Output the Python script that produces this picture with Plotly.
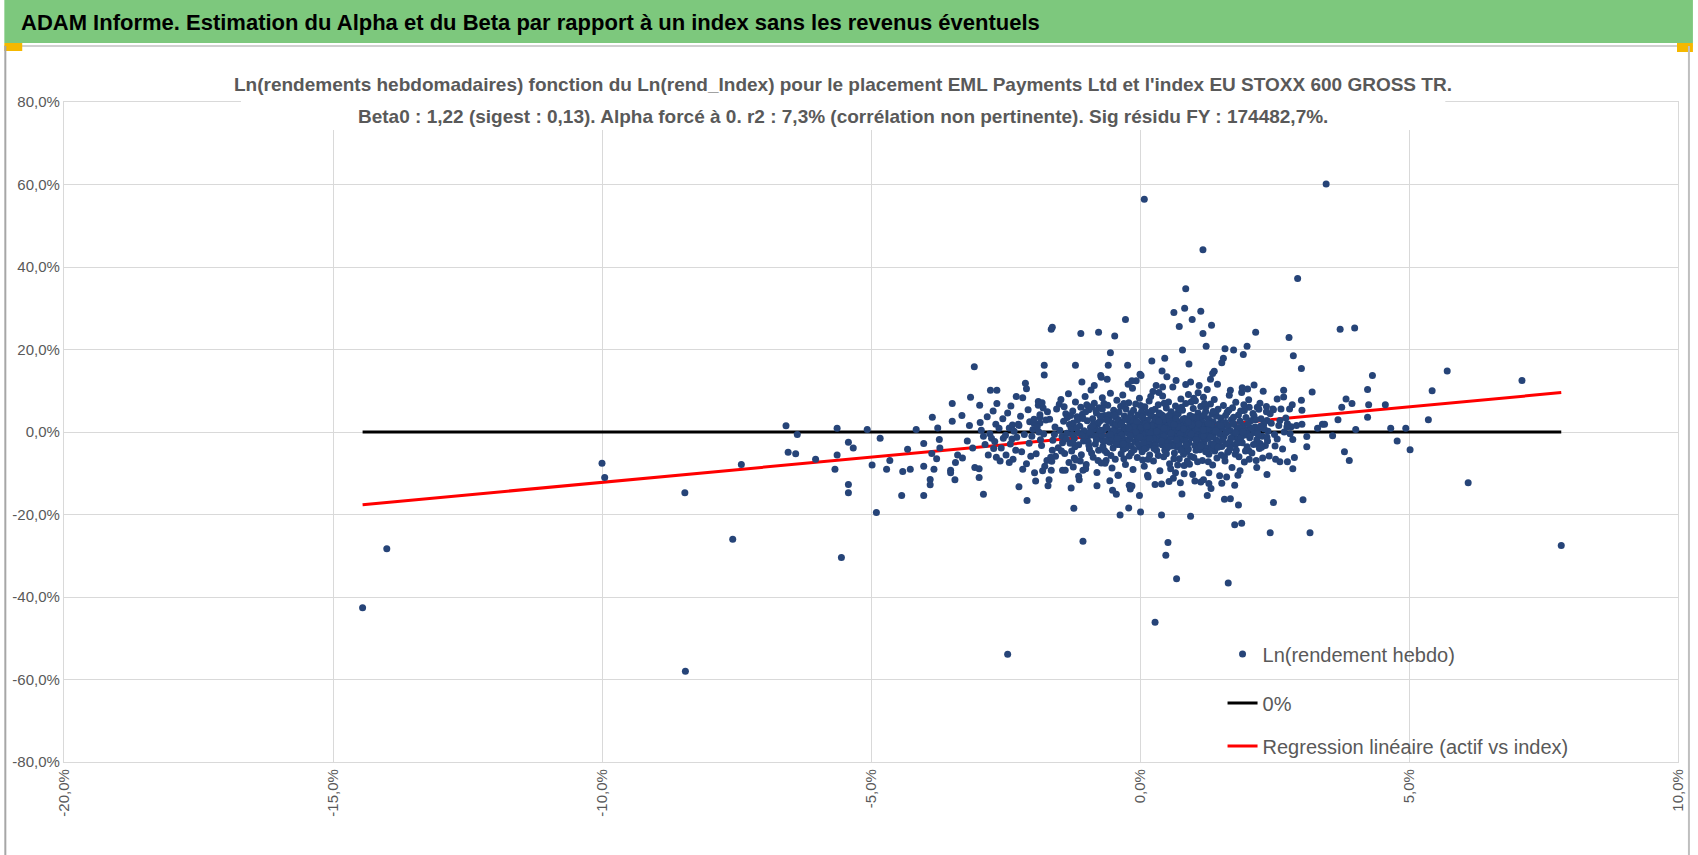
import plotly.graph_objects as go

# ---------------- data (values in %) ----------------
# sparse / outlying weekly points: (Ln(rend_Index), Ln(rendement hebdo))
points_far_left = [
    (-14.45, -42.6), (-14.00, -28.3), (-10.00, -7.6), (-9.95, -11.0), (-8.46, -14.7),
    (-8.45, -58.0), (-7.57, -26.0), (-7.41, -7.9), (-6.58, 1.5), (-6.54, -4.9),
    (-6.40, -5.3), (-6.37, -0.6), (-6.03, -6.6), (-5.63, 0.9), (-5.63, -5.6),
    (-5.67, -9.0), (-5.42, -2.5), (-5.33, -3.9), (-5.42, -12.7), (-5.42, -14.7),
    (-5.55, -30.4),
]

points_left = [
    (-4.90, -19.5), (-5.07, 0.6), (-4.83, -1.5), (-4.98, -8.0), (-4.71, -9.0), (-4.65, -6.9),
    (-4.32, -4.2), (-4.41, -9.6), (-4.27, -9.0), (-4.43, -15.4), (-4.16, 0.6), (-4.02, -2.8),
    (-4.02, -8.3), (-4.02, -15.4), (-3.86, 3.6), (-3.87, -5.2), (-3.83, -9.0), (-3.90, -11.5),
    (-3.90, -12.8), (-3.78, -6.5), (-3.76, 1.0), (-3.73, -1.8), (-3.72, -3.9), (-3.52, -9.3),
    (-3.52, -9.9), (-3.44, -11.6), (-3.43, -7.4), (-3.49, 2.6), (-3.49, 6.9), (-3.39, -5.6),
    (-3.30, -6.3), (-3.31, 4.0), (-3.21, -2.2), (-3.17, 1.6), (-3.15, 8.4), (-3.11, -3.9),
    (-3.07, -8.6), (-3.08, 15.8), (-2.98, 6.5), (-2.97, 2.3), (-2.99, -8.9), (-2.99, -11.0),
    (-2.91, -15.1), (-2.91, -1.0), (-2.82, -5.6), (-2.76, -1.5), (-2.72, -4.0), (-2.68, 1.9),
    (-2.67, -6.1), (-2.66, 6.9), (-2.66, 10.1), (-2.78, 10.1), (-2.54, -1.5), (-2.49, -5.6),
    (-2.43, 1.0), (-2.43, -7.4), (-2.38, -1.7), (-2.36, -6.6), (-2.31, -4.4), (-2.30, 8.6),
    (-2.25, 1.6), (-2.25, -13.3), (-2.18, 8.3), (-2.18, -9.0), (-2.11, -7.7), (-2.10, -16.6),
    (-2.03, -5.9), (-1.99, 0.6), (-1.96, -9.9), (-1.94, -11.9), (-1.88, 0.0), (-1.83, -3.3),
    (-1.81, -9.4), (-1.77, -8.3), (-2.13, 11.8), (-2.11, 10.5), (-1.78, 16.2), (-1.78, 13.8),
    (-1.89, 7.4), (-1.89, 6.5), (-1.86, 4.2), (-1.86, 2.2), (-2.37, 1.7), (-2.26, 1.9),
    (-2.05, 2.5), (-1.97, 2.1), (-1.86, 3.6), (-1.72, 4.9), (-1.80, 5.8),
    (-2.95, 0.4), (-2.88, -3.0), (-2.84, 3.7), (-2.79, -0.4), (-2.73, 5.1), (-2.70, -2.3),
    (-2.62, 0.9), (-2.58, -3.9), (-2.55, 3.2), (-2.50, -0.8), (-2.46, 4.6), (-2.41, -2.9),
    (-2.34, 0.2), (-2.29, -1.3), (-2.22, 3.8), (-2.20, -4.8), (-2.15, -0.6), (-2.08, 5.4),
    (-2.06, -2.7), (-2.01, -1.0), (-1.97, 3.1), (-1.93, -5.3), (-1.91, 1.2), (-1.85, -1.9),
    (-1.82, 7.1), (-1.79, -0.5), (-1.75, 2.9), (-1.73, -6.9), (-2.40, 6.3), (-2.60, -7.0),
]

points_top = [
    (-1.65, 24.9), (-1.63, 25.4), (-1.10, 23.9), (-0.77, 24.2), (-0.47, 23.3), (-0.27, 27.3),
    (-0.55, 19.2), (-0.59, 16.2), (-0.23, 16.2), (-1.20, 16.2), (-1.08, 12.1), (-0.72, 13.3),
    (-0.61, 12.8), (0.22, 17.2), (0.46, 17.9), (0.41, 14.8), (0.02, 13.7), (-0.07, 12.4),
    (0.63, 29.0), (0.83, 30.0), (0.85, 34.7), (1.13, 29.3), (0.97, 27.3), (0.73, 25.6),
    (1.17, 23.9), (1.33, 25.9), (1.23, 20.8), (0.79, 19.9), (0.91, 16.5), (1.58, 20.2),
    (1.74, 19.9), (1.92, 18.8), (1.99, 20.8), (2.15, 24.2), (1.55, 17.9), (1.52, 16.8),
    (1.38, 14.7), (1.31, 12.8), (2.77, 22.9), (2.85, 18.5), (3.00, 15.4), (3.72, 24.9),
    (3.99, 25.2), (4.32, 13.7), (0.08, 56.4), (3.46, 60.1), (1.17, 44.2), (2.93, 37.2),
    (5.71, 14.8), (-0.22, 11.6), (-0.15, 12.4), (0.00, 14.0), (0.50, 13.4), (0.67, 12.5),
    (1.35, 14.2), (-0.73, 13.7), (-0.85, 11.3), (7.10, 12.5), (0.30, 11.3), (0.42, 10.9),
    (0.94, 12.1), (1.10, 11.3), (1.44, 11.6),
]

points_right = [
    (4.23, 10.3), (4.25, 6.6), (4.23, 3.6), (3.83, 8.0), (3.75, 6.0), (3.94, 6.9), (4.56, 6.6),
    (5.43, 10.0), (5.36, 3.0), (4.94, 0.9), (4.66, 0.9), (4.78, -2.2), (5.02, -4.3), (4.01, 0.6),
    (3.58, -0.9), (3.68, 3.0), (3.39, 1.9), (3.43, 1.9), (3.30, 0.9), (3.20, 9.7), (3.10, -1.1),
    (3.10, -3.6), (3.01, 1.9), (3.01, 5.3), (3.00, 7.7), (2.83, 6.6), (2.78, 5.6), (2.67, 8.5),
    (2.67, 10.1), (2.55, 8.0), (2.29, 9.9), (2.12, 11.4), (2.00, 10.4), (1.90, 10.7), (1.68, 10.1),
    (2.23, 7.0), (2.35, 6.2), (2.47, 5.6), (2.37, -2.2), (2.51, -3.4), (2.55, -1.7), (2.84, -1.8),
    (2.68, 0.0), (2.74, 2.0), (2.81, 1.3), (6.10, -12.3), (7.83, -27.5), (3.80, -4.8), (3.89, -6.9),
    (2.87, -6.2), (2.84, -8.9), (2.74, -7.2), (2.60, -7.2), (2.52, -6.6), (3.03, -16.4),
    (3.16, -24.4), (2.42, -24.4), (2.48, -17.1), (2.36, -10.3), (2.17, -8.6), (2.28, -6.3),
    (2.16, -6.9), (1.94, -7.3), (1.83, -17.7), (1.57, -16.3), (1.68, -16.2), (1.76, -22.5),
    (1.89, -22.1), (1.61, -10.9), (1.86, -9.4), (1.82, -10.5), (2.23, -2.8), (2.02, -4.5),
    (1.77, -5.4), (1.65, -4.6), (2.48, 5.4), (2.42, 4.4), (2.03, 6.0), (2.62, 5.6), (2.91, 1.6),
    (2.73, 1.2), (2.79, -0.4), (2.60, 2.8), (2.36, 2.8),
]

points_bottom = [
    (-2.46, -53.9), (0.28, -46.1), (-1.06, -26.5), (0.52, -26.8), (0.48, -29.9), (0.68, -35.6),
    (1.64, -36.6), (-1.23, -18.5), (-0.37, -20.1), (-0.21, -18.4), (0.01, -19.4), (0.40, -20.1),
    (0.94, -20.4), (-0.01, -15.4), (-0.18, -13.8), (-0.15, -13.1), (0.28, -12.7), (0.54, -12.0),
    (0.78, -15.0), (1.13, -12.1), (1.18, -11.6), (1.25, -15.4), (1.32, -13.7), (1.28, -9.9),
    (-0.80, -13.0), (-0.72, -7.5), (-0.63, -6.9), (-0.56, -11.8), (-0.51, -14.1), (-0.44, -15.1),
    (-1.28, -13.6), (-1.24, -8.5), (-1.22, -6.3), (-1.14, -10.7), (-1.06, -9.3), (-1.01, -8.9),
    (-1.71, -13.0), (-1.69, -11.6), (-1.66, -6.1), (-1.63, -4.4), (-1.59, -0.6), (-1.44, -9.3),
    (-1.44, -2.6), (-1.39, -9.3), (-0.41, -10.5), (-0.20, -12.9), (0.14, -10.5), (0.82, -10.1),
    (1.28, -12.5), (-1.65, -9.3),
]

# dense central cloud
points_core = [
    (-1.68, 3.1), (-1.62, -2.0), (-1.58, 1.2), (-1.55, 5.6), (-1.52, -3.8), (-1.49, 0.4),
    (-1.47, 7.9), (-1.45, -1.1), (-1.42, 2.6), (-1.40, -5.2), (-1.38, 4.4), (-1.36, -0.3),
    (-1.33, 9.3), (-1.32, -7.4), (-1.31, 1.8), (-1.64, -7.1), (-1.57, -5.9), (-1.50, 6.7),
    (-1.35, 3.5), (-1.30, -2.7),
    (-1.28, 0.9), (-1.27, -4.6), (-1.25, 5.1), (-1.24, 2.2), (-1.22, -1.5), (-1.20, 7.3),
    (-1.19, -6.8), (-1.17, 3.7), (-1.15, -0.2), (-1.14, -3.1), (-1.12, 1.4), (-1.10, 6.0),
    (-1.09, -5.5), (-1.07, 4.3), (-1.05, -2.2), (-1.04, 0.3), (-1.02, 8.6), (-1.00, -7.9),
    (-0.98, 2.7), (-0.97, -1.0), (-0.95, 5.4), (-0.94, -4.1), (-0.92, 1.1), (-0.91, 10.2),
    (-1.13, -11.6),
    (-0.89, -0.7), (-0.88, 3.2), (-0.87, -6.1), (-0.85, 7.0), (-0.84, 0.8), (-0.83, -2.9),
    (-0.81, 4.6), (-0.80, -9.8), (-0.79, 1.9), (-0.77, -4.4), (-0.76, 5.9), (-0.75, -0.1),
    (-0.73, 2.8), (-0.72, -1.6), (-0.70, 8.3), (-0.69, -3.5), (-0.68, 0.5), (-0.66, 4.0),
    (-0.65, -7.6), (-0.63, 1.3), (-0.62, -5.0), (-0.60, 6.5), (-0.59, -0.9), (-0.57, 3.4),
    (-0.56, -2.5), (-0.55, 9.4), (-0.53, 0.2), (-0.52, -8.7), (-0.51, 2.1), (-0.50, -3.9),
    (-0.49, 5.3), (-0.48, -1.3), (-0.47, 0.9), (-0.46, -6.6), (-0.45, 3.6), (-0.44, -0.4),
    (-0.43, 7.7), (-0.42, -3.0), (-0.41, 1.6), (-0.40, -10.5), (-0.39, 4.8), (-0.38, -2.0),
    (-0.37, 0.1), (-0.36, 6.2), (-0.35, -5.3), (-0.34, 2.4), (-0.33, -0.8), (-0.32, 9.0),
    (-0.31, -4.2), (-0.30, 1.2), (-0.29, 3.9), (-0.28, -1.9), (-0.27, -7.9), (-0.26, 5.6),
    (-0.25, 0.4), (-0.24, -2.7), (-0.23, 2.9), (-0.22, -0.3), (-0.21, 7.1), (-0.20, -5.8),
    (-0.19, 1.8), (-0.18, -1.2), (-0.17, 4.5), (-0.16, -3.4), (-0.15, 0.7), (-0.14, 10.6),
    (-0.13, -9.1), (-0.12, 2.2), (-0.11, -0.6),
    (-0.10, 3.3), (-0.09, -2.3), (-0.08, 6.8), (-0.07, -0.9), (-0.06, 1.5), (-0.05, -6.2),
    (-0.04, 4.1), (-0.03, -1.6), (-0.02, 0.3), (-0.01, 8.2), (0.00, -3.7), (0.01, 2.0),
    (0.02, -0.2), (0.03, 5.0), (0.04, -4.8), (0.05, 1.0), (0.06, -1.4), (0.07, 3.0),
    (0.08, -8.3), (0.09, 6.1), (0.10, -0.5), (0.11, 2.5), (0.12, -2.9), (0.13, 0.8),
    (0.14, 4.7), (0.15, -10.9), (0.16, -0.1), (0.17, 7.5), (0.18, -5.6), (0.19, 1.7),
    (0.20, -1.1), (0.21, 3.8), (0.22, -3.2), (0.23, 0.4), (0.24, 9.8), (0.25, -7.0),
    (0.26, 2.3), (0.27, -0.7), (0.28, 5.5), (0.29, -2.4),
    (0.30, 1.1), (0.31, -4.5), (0.32, 3.5), (0.33, -0.3), (0.34, 6.6), (0.35, -1.8),
    (0.36, 0.6), (0.37, -9.4), (0.38, 2.8), (0.39, -0.9), (0.40, 4.2), (0.41, -3.1),
    (0.42, 8.7), (0.43, 0.2), (0.44, -6.0), (0.45, 1.9), (0.46, -1.5), (0.47, 3.1),
    (0.48, -0.1), (0.49, 5.8), (0.50, -4.0), (0.51, 1.4), (0.52, -2.2), (0.53, 7.3),
    (0.54, 0.0), (0.55, -7.7), (0.56, 2.6), (0.57, -0.6), (0.58, 4.9), (0.59, -2.8),
    (0.60, 1.0), (0.61, 10.9), (0.62, -1.3), (0.63, 3.7), (0.64, -5.1), (0.65, 0.5),
    (0.66, 6.3), (0.67, -0.2), (0.68, -3.6), (0.69, 2.1), (0.40, -12.6), (0.62, -11.2),
    (0.35, 9.6), (0.57, -8.9), (0.66, -9.9),
    (0.70, -1.0), (0.71, 4.4), (0.72, 0.3), (0.73, -6.5), (0.74, 2.4), (0.75, -2.0),
    (0.76, 8.0), (0.77, 0.9), (0.78, -3.9), (0.79, 5.3), (0.80, -0.4), (0.81, 1.6),
    (0.82, -8.1), (0.83, 3.3), (0.84, -1.7), (0.85, 6.9), (0.86, 0.1), (0.87, -4.7),
    (0.88, 2.0), (0.89, -0.8), (0.90, 9.1), (0.91, -2.6), (0.92, 1.2), (0.93, 4.0),
    (0.94, -5.9), (0.95, 0.6), (0.96, -1.4), (0.97, 3.0), (0.98, -10.3), (0.99, 5.7),
    (1.00, -0.2), (1.01, 2.2), (1.02, -3.3), (1.03, 7.6), (1.04, 0.4), (1.05, -2.1),
    (1.06, 1.5), (1.07, -7.2), (1.08, 4.6), (1.09, -0.7), (0.75, -12.3), (0.85, 11.5),
    (1.02, -11.9), (0.92, -7.8), (1.08, 9.5),
    (1.10, 2.9), (1.11, -4.3), (1.12, 0.8), (1.13, 6.2), (1.14, -1.2), (1.15, 3.6),
    (1.16, -6.9), (1.17, 0.0), (1.18, 8.4), (1.19, -2.5), (1.20, 1.9), (1.21, -0.5),
    (1.22, 5.0), (1.23, -3.8), (1.24, 0.7), (1.25, 10.3), (1.26, -1.6), (1.27, 3.2),
    (1.28, -5.4), (1.29, 1.3), (1.30, -0.9), (1.31, 6.8), (1.32, -2.9), (1.33, 0.2),
    (1.34, 4.3), (1.35, -8.0), (1.36, 2.5), (1.37, -0.3), (1.38, 7.9), (1.39, -4.6),
    (1.40, 1.0), (1.41, -1.9), (1.42, 3.9), (1.43, -6.3), (1.44, 0.5), (1.45, 5.5),
    (1.46, -2.3), (1.47, 2.0), (1.48, -10.6), (1.49, -0.6),
    (1.50, 3.4), (1.52, -3.5), (1.53, 0.9), (1.55, 6.4), (1.56, -1.1), (1.58, -7.0),
    (1.59, 2.3), (1.60, -0.2), (1.62, 4.8), (1.63, -4.9), (1.64, 1.4), (1.66, 8.9),
    (1.67, -2.4), (1.68, 0.3), (1.70, 3.0), (1.71, -8.6), (1.72, 5.9), (1.74, -0.8),
    (1.75, 1.8), (1.77, -3.0), (1.78, 7.2), (1.80, 0.6), (1.81, -1.7), (1.83, 4.1),
    (1.84, -6.0), (1.86, 2.6), (1.87, -0.4), (1.89, 9.6), (1.52, -12.4), (1.76, -12.9),
    (1.90, -2.6), (1.92, 1.5), (1.94, 5.2), (1.95, -0.7), (1.97, 3.5), (1.99, -3.6),
    (2.00, 0.4), (2.02, 7.8), (2.04, -1.4), (2.06, 2.7), (2.08, -5.1), (2.10, 4.5),
    (2.12, -0.1), (2.14, 1.2), (2.16, -2.9), (2.18, 6.0), (2.20, 0.8), (2.22, -4.0),
    (2.25, 3.2), (2.27, -1.0), (2.30, 1.9), (2.33, -3.3), (2.35, 4.9), (2.38, 0.2),
    (2.40, -5.8),
    (0.02, 1.1), (0.08, -1.9), (0.14, 2.9), (0.19, -0.4), (0.24, 1.6), (0.29, -3.3),
    (0.33, 2.0), (0.38, -0.2), (0.43, 3.9), (0.47, -2.5), (0.52, 0.7), (0.57, -1.1),
    (0.61, 2.5), (0.66, -3.0), (0.71, 1.3), (0.75, -0.5), (0.80, 3.1), (0.84, -2.2),
    (0.89, 0.4), (0.93, -0.9), (0.98, 2.1), (1.03, -1.3), (1.07, 0.9), (1.12, -2.8),
    (1.16, 2.4), (1.21, -1.5), (1.25, 0.6), (1.30, 2.6), (1.35, -1.0), (1.40, 0.0),
    (-0.05, -0.8), (-0.12, 1.3), (-0.20, -1.8), (-0.28, 0.9), (-0.36, -3.1), (-0.44, 2.0),
    (-0.53, -1.4), (-0.61, 1.0), (-0.69, -2.1), (-0.77, 2.3), (0.05, 4.0), (0.27, 3.6),
    (0.46, -4.4), (0.69, 4.5), (0.90, -4.1), (1.11, 3.8), (1.33, -4.0), (0.16, -2.3),
    (0.55, 3.0), (0.96, 1.7), (0.36, 4.6), (0.74, -1.7), (1.19, 4.1), (0.12, -3.8),
    (0.59, -3.4), (1.04, -4.4), (-0.17, 3.0), (-0.39, -2.2), (-0.58, 4.2), (-0.83, -0.9),
]

points_core_extra = [
    (-1.46, -4.6), (-1.41, 6.1), (-1.37, -1.7), (-1.29, 4.0), (-1.26, -0.6), (-1.21, -3.6),
    (-1.16, 2.9), (-1.11, -7.0), (-1.06, 3.3), (-1.03, -1.3), (-0.99, 6.6), (-0.96, -2.4),
    (-0.93, 0.0), (-0.90, -5.1), (-0.86, 2.0), (-0.82, 5.2), (-0.78, -6.9), (-0.74, 3.9),
    (-0.71, -0.8), (-0.67, 6.9), (-0.64, -2.2), (-0.58, 2.6), (-0.54, -5.7), (-0.49, 0.3),
    (-0.45, -2.6), (-0.40, 3.0), (-0.35, -0.7), (-0.30, 6.9), (-0.26, -3.9), (-0.21, 1.0),
    (-0.16, -5.0), (-0.12, 5.3), (-0.08, -0.1), (-0.03, -3.0), (0.01, 6.4), (0.06, -2.7),
    (0.10, 1.9), (0.15, -6.6), (0.20, 4.3), (0.25, -1.6), (0.30, 3.0), (0.34, -5.7),
    (0.39, 1.4), (0.44, -1.0), (0.48, 6.8), (0.53, -3.5), (0.58, 2.0), (0.63, -6.5),
    (0.67, 3.3), (0.72, -3.0), (0.77, 6.0), (0.81, -5.4), (0.86, 2.8), (0.91, -0.2),
    (0.95, 7.3), (1.00, -6.2), (1.05, 3.4), (1.09, -4.0), (1.14, 1.6), (1.18, -0.9),
    (1.23, 6.1), (1.27, -7.2), (1.32, 1.9), (1.37, -3.1), (1.41, 4.7), (1.46, -0.1),
    (1.51, -5.6), (1.55, 2.1), (1.60, -2.9), (1.65, 5.3), (1.69, -1.5), (1.74, 3.6),
    (1.79, -4.4), (1.84, 1.1), (1.88, -1.3), (1.93, 6.6), (1.98, -0.5), (2.03, -6.6),
    (2.07, 1.0), (2.12, 3.9), (2.17, -1.9), (2.21, 5.5), (2.26, -3.7), (2.31, 0.7),
    (2.36, -1.3), (2.44, 2.1), (2.50, -0.6), (2.58, 1.6), (2.65, -4.1), (2.71, 3.4),
    (-0.95, -3.3), (-0.88, 1.5), (-0.81, -1.9), (-0.74, 0.4), (-0.66, -4.5), (-0.62, 3.0),
    (-0.55, -0.6), (-0.48, 4.1), (-0.42, -1.6), (-0.35, 1.9), (-0.31, -2.9), (-0.24, 3.4),
    (-0.18, -0.9), (-0.11, -4.3), (-0.06, 2.6), (0.00, -1.2), (0.04, 3.6), (0.09, -4.1),
    (0.13, 1.4), (0.18, -1.6), (0.22, 5.2), (0.26, -4.0), (0.31, 0.2), (0.35, 2.6),
    (0.40, -2.1), (0.45, 0.9), (0.49, -5.3), (0.54, 4.0), (0.58, -0.3), (0.63, 1.8),
    (0.68, -1.9), (0.72, 5.5), (0.76, -4.4), (0.81, 0.7), (0.86, -3.1), (0.90, 2.5),
    (0.95, -0.5), (0.99, 3.7), (1.04, -1.8), (1.09, 2.0), (1.13, -3.4), (1.18, 0.5),
    (1.22, -4.8), (1.27, 2.1), (1.31, -1.3), (1.36, 5.0), (1.41, 0.3), (1.45, -3.7),
    (1.50, 1.6), (1.54, -1.9), (1.59, 4.0), (1.63, 0.1), (1.68, -3.9), (1.73, 2.2),
    (1.78, -0.2), (1.82, -2.6), (1.87, 5.1), (1.91, 0.0), (1.96, -4.6), (2.01, 2.0),
    (2.05, -0.9), (2.11, -3.0), (2.15, 3.0), (2.19, -0.5), (2.24, 1.4), (-1.25, -2.5),
    (-1.18, 1.0), (-1.08, -0.8), (-1.01, 4.9), (-0.90, 6.1), (0.05, -6.8), (0.45, 7.0),
    (0.88, -7.0), (1.20, 6.9), (1.57, -6.0), (-0.30, -6.5), (-0.70, 5.6), (0.70, -8.0),
    (1.00, 8.2), (0.20, 8.6),
]

beta0 = 1.22  # regression slope (alpha forced to 0)

x_tick_vals = [-20, -15, -10, -5, 0, 5, 10]
x_tick_text = ["-20,0%", "-15,0%", "-10,0%", "-5,0%", "0,0%", "5,0%", "10,0%"]
y_tick_vals = [-80, -60, -40, -20, 0, 20, 40, 60, 80]
y_tick_text = ["-80,0%", "-60,0%", "-40,0%", "-20,0%", "0,0%", "20,0%", "40,0%", "60,0%", "80,0%"]

title_text = "ADAM Informe. Estimation du Alpha et du Beta par rapport à un index sans les revenus éventuels"
subtitle_1 = "Ln(rendements hebdomadaires) fonction du Ln(rend_Index) pour le placement EML Payments Ltd et l'index EU STOXX 600 GROSS TR."
subtitle_2 = "Beta0 : 1,22 (sigest : 0,13). Alpha forcé à 0. r2 : 7,3% (corrélation non pertinente). Sig résidu FY : 174482,7%."

# ---------------- build ----------------
all_points = (points_far_left + points_left + points_top + points_right + points_bottom
              + points_core + points_core_extra)
x_idx = [p[0] for p in all_points]
y_act = [p[1] for p in all_points]
x_line = [min(x_idx), max(x_idx)]
y_zero = [0, 0]
y_reg = [beta0 * v for v in x_line]

W, H = 1698, 855
ML, MR, MT, MB = 60, 15, 102, 93
PW, PH = W - ML - MR, H - MT - MB


def px(x):
    return (x - ML) / PW


def py(y):
    return (H - MB - y) / PH


FONT = "Liberation Sans Narrow, Arial Narrow, Liberation Sans, Arial, sans-serif"
GREY = "#595959"

fig = go.Figure()
fig.add_trace(go.Scatter(x=x_line, y=y_zero, mode="lines", name="0%",
                         line=dict(color="black", width=3), legend="legend2", hoverinfo="skip"))
fig.add_trace(go.Scatter(x=x_line, y=y_reg, mode="lines", name="Regression linéaire (actif vs index)",
                         line=dict(color="#FF0000", width=3), legend="legend3", hoverinfo="skip"))
fig.add_trace(go.Scatter(x=x_idx, y=y_act, mode="markers", name="Ln(rendement hebdo)",
                         marker=dict(color="#264478", size=7, line=dict(width=0)), legend="legend"))

leg = dict(bgcolor="rgba(0,0,0,0)", borderwidth=0, xanchor="left", yanchor="middle",
           font=dict(family=FONT, size=20, color=GREY), itemwidth=30)

fig.update_layout(
    width=W, height=H,
    margin=dict(l=ML, r=MR, t=MT, b=MB),
    paper_bgcolor="white", plot_bgcolor="white",
    font=dict(family=FONT, color=GREY),
    showlegend=True,
    legend=dict(leg, x=px(1225), y=py(654)),
    legend2=dict(leg, x=px(1225), y=py(703)),
    legend3=dict(leg, x=px(1225), y=py(746)),
    xaxis=dict(range=[-20, 10], tickvals=x_tick_vals, ticktext=x_tick_text, tickangle=-90,
               showgrid=True, gridcolor="#D9D9D9", gridwidth=1.3, zeroline=False,
               showline=True, mirror=True, linecolor="#D9D9D9", linewidth=1.3,
               tickfont=dict(family=FONT, size=15, color=GREY), ticks=""),
    yaxis=dict(range=[-80, 80], tickvals=y_tick_vals, ticktext=y_tick_text,
               showgrid=True, gridcolor="#D9D9D9", gridwidth=1.3, zeroline=False,
               showline=True, mirror=True, linecolor="#D9D9D9", linewidth=1.3,
               tickfont=dict(family=FONT, size=15, color=GREY), ticks=""),
    shapes=[
        dict(type="rect", xref="paper", yref="paper", x0=px(0), x1=px(W), y0=py(43), y1=py(0),
             fillcolor="#7DC87D", line=dict(width=0), layer="above"),
        dict(type="line", xref="paper", yref="paper", x0=px(0), x1=px(W), y0=py(46), y1=py(46),
             line=dict(color="#D0D0D0", width=2), layer="above"),
        dict(type="rect", xref="paper", yref="paper", x0=px(0), x1=px(18), y0=py(51), y1=py(43),
             fillcolor="#F5B800", line=dict(width=0), layer="above"),
        dict(type="rect", xref="paper", yref="paper", x0=px(1682), x1=px(W), y0=py(52), y1=py(43),
             fillcolor="#F5B800", line=dict(width=0), layer="above"),
        dict(type="line", xref="paper", yref="paper", x0=px(1), x1=px(1), y0=py(46), y1=py(H),
             line=dict(color="#A6A6A6", width=2), layer="above"),
        dict(type="line", xref="paper", yref="paper", x0=px(1694), x1=px(1694), y0=py(46), y1=py(H),
             line=dict(color="#BFBFBF", width=2), layer="above"),
        dict(type="rect", xref="paper", yref="paper", x0=px(238), x1=px(1449), y0=py(130), y1=py(68),
             fillcolor="white", line=dict(width=0), layer="above"),
    ],
    annotations=[
        dict(text=title_text, xref="paper", yref="paper", x=px(15), y=py(22), xanchor="left",
             yanchor="middle", showarrow=False,
             font=dict(family=FONT, size=22, color="black", weight="bold")),
        dict(text=subtitle_1, xref="paper", yref="paper", x=px(843), y=py(85), xanchor="center",
             yanchor="middle", showarrow=False,
             font=dict(family=FONT, size=19, color=GREY, weight="bold")),
        dict(text=subtitle_2, xref="paper", yref="paper", x=px(843), y=py(116), xanchor="center",
             yanchor="middle", showarrow=False,
             font=dict(family=FONT, size=19, color=GREY, weight="bold")),
    ],
)

fig.write_html("out.html", config={"displayModeBar": False},
               post_script="document.body.style.margin='0';document.body.style.overflow='hidden';")
